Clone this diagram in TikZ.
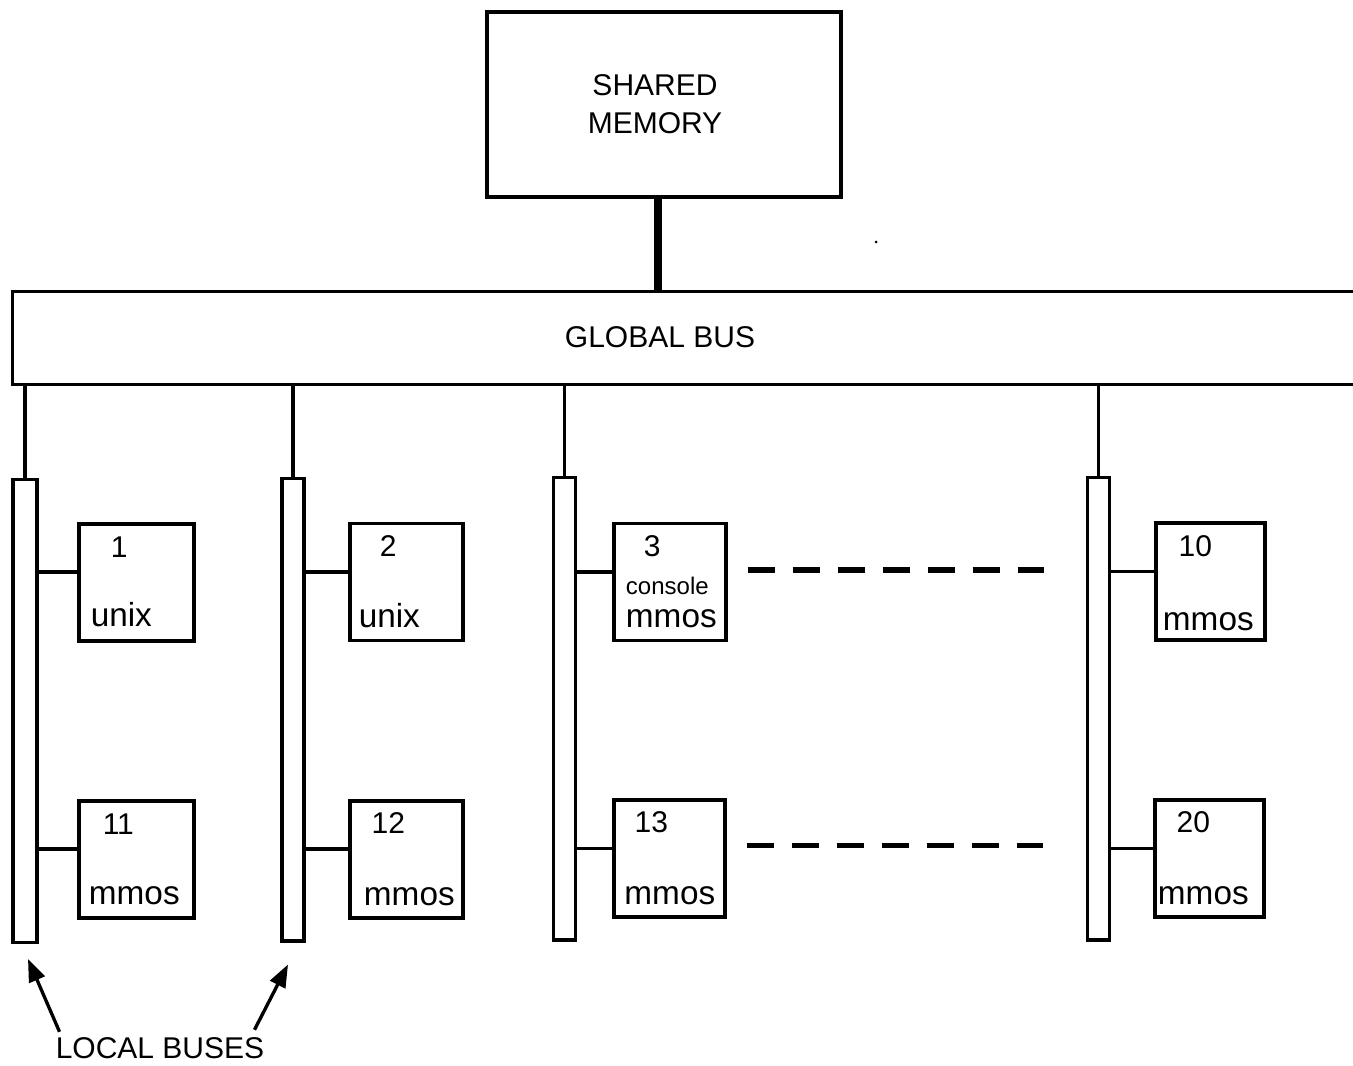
\documentclass[tikz,border=0pt]{standalone}
\usepackage{fontspec}
\setmainfont{Liberation Sans}
\usetikzlibrary{arrows.meta}

\begin{document}
\begin{tikzpicture}[x=0.75pt,y=0.75pt,yscale=-1,xscale=1,
        framebox/.style={draw,line width=2.5pt,inner sep=0pt},
        unitbox/.style={framebox,minimum height=87.75pt},
        localbus/.style={framebox,minimum width=16.5pt,minimum height=347pt},
        wire/.style={line width=2.8pt},
        dashwire/.style={line width=4pt,dash pattern=on 20.25pt off 13.5pt},
        pointer/.style={line width=2.5pt,-{Triangle[length=17pt,width=12.5pt]}},
        capslabel/.style={inner sep=0pt,align=center,font=\fontsize{22.5}{28.5}\selectfont},
        numlabel/.style={anchor=base,inner sep=0pt,font=\fontsize{22.5}{26}\selectfont},
        oslabel/.style={anchor=base,inner sep=0pt,font=\fontsize{25}{28}\selectfont}]
        \useasboundingbox (0,0) rectangle (1353,1066);

        % Shared memory
        \node[framebox,minimum width=265.5pt,minimum height=138.75pt] (mem) at (664,104.5) {};
        \node[capslabel] (memtext) at ([shift={(-9,0)}]mem.center) {SHARED\\MEMORY};

        % Global bus (open to the right)
        \node[inner sep=0pt,minimum width=1005pt,minimum height=69pt] (gbus) at (683,338) {};
        \draw[line width=2.5pt] (gbus.north east) -- (gbus.north west) -- (gbus.south west) -- (gbus.south east);
        \node[capslabel,anchor=base] (gbtext) at ([shift={(-23,9)}]gbus.center) {GLOBAL BUS};

        % Memory to global bus
        \coordinate (memtap) at ([shift={(-6,0)}]mem.south);
        \draw[line width=6.5pt] (memtap) -- (memtap |- gbus.north);

        % Speck
        \fill (876,242) circle [radius=1.5];

        % Local buses
        \node[localbus,minimum width=18pt] (lb1) at (25,711) {};
        \node[localbus] (lb2) at (293,709.5) {};
        \node[localbus] (lb3) at (564.5,708.5) {};
        \node[localbus] (lb4) at (1098.5,708.5) {};

        % Global bus to local buses
        \draw[wire] (lb1.north) -- (lb1.north |- gbus.south);
        \draw[wire] (lb2.north) -- (lb2.north |- gbus.south);
        \draw[wire] (lb3.north) -- (lb3.north |- gbus.south);
        \draw[wire] (lb4.north) -- (lb4.north |- gbus.south);

        % Processor boards, top row
        \node[unitbox,minimum width=86.25pt] (b1) at (136.5,582.5) {};
        \node[unitbox,minimum width=84.75pt] (b2) at (406.5,582) {};
        \node[unitbox,minimum width=84pt] (b3) at (670,582) {};
        \node[unitbox,minimum width=81.75pt] (b10) at (1210.5,581.5) {};
        % Processor boards, bottom row
        \node[unitbox,minimum width=86.25pt] (b11) at (136.5,859.5) {};
        \node[unitbox,minimum width=84.75pt] (b12) at (406.5,859.5) {};
        \node[unitbox,minimum width=83.25pt] (b13) at (669.5,858.5) {};
        \node[unitbox,minimum width=81.75pt] (b20) at (1209.5,858.5) {};

        % Boards to local buses
        \draw[wire] (lb1.east |- b1.170) -- (b1.170);
        \draw[wire] (lb2.east |- b2.170) -- (b2.170);
        \draw[wire] (lb3.east |- b3.170) -- (b3.170);
        \draw[wire] (lb4.east |- b10.170) -- (b10.170);
        \draw[wire] (lb1.east |- b11.170) -- (b11.170);
        \draw[wire] (lb2.east |- b12.170) -- (b12.170);
        \draw[wire] (lb3.east |- b13.170) -- (b13.170);
        \draw[wire] (lb4.east |- b20.170) -- (b20.170);

        % Board labels
        \node[numlabel] (n1) at ([shift={(42,35)}]b1.north west) {1};
        \node[oslabel] (os1) at ([shift={(44,104)}]b1.north west) {unix};
        \node[numlabel] (n2) at ([shift={(40,35)}]b2.north west) {2};
        \node[oslabel] (os2) at ([shift={(41,106)}]b2.north west) {unix};
        \node[numlabel] (n3) at ([shift={(40,35)}]b3.north west) {3};
        \node[numlabel,font=\fontsize{18}{20}\selectfont] (cons3) at ([shift={(55,73)}]b3.north west) {console};
        \node[oslabel] (os3) at ([shift={(59,106)}]b3.north west) {mmos};
        \node[numlabel] (n10) at ([shift={(41,35)}]b10.north west) {10};
        \node[oslabel] (os10) at ([shift={(54,109)}]b10.north west) {mmos};
        \node[numlabel] (n11) at ([shift={(41,35)}]b11.north west) {11};
        \node[oslabel] (os11) at ([shift={(57,105)}]b11.north west) {mmos};
        \node[numlabel] (n12) at ([shift={(40,34)}]b12.north west) {12};
        \node[oslabel] (os12) at ([shift={(61,106)}]b12.north west) {mmos};
        \node[numlabel] (n13) at ([shift={(39,34)}]b13.north west) {13};
        \node[oslabel] (os13) at ([shift={(57.5,106)}]b13.north west) {mmos};
        \node[numlabel] (n20) at ([shift={(40,34)}]b20.north west) {20};
        \node[oslabel] (os20) at ([shift={(50,106)}]b20.north west) {mmos};

        % Dashed continuation
        \draw[dashwire] ([shift={(20,-2)}]b3.10) -- ++(296,0);
        \draw[dashwire] ([shift={(20,-3)}]b13.10) -- ++(296,0);

        % Local buses caption
        \node[capslabel,anchor=base] (lbtext) at (160,1058) {LOCAL BUSES};
        \coordinate (tipA) at ([shift={(3,15)}]lb1.south);
        \coordinate (tipB) at ([shift={(-5,22)}]lb2.south);
        \draw[pointer] ([shift={(4,-5)}]lbtext.north west) -- (tipA);
        \draw[pointer] ([shift={(-10,-7)}]lbtext.north east) -- (tipB);

    \end{tikzpicture}
\end{document}
